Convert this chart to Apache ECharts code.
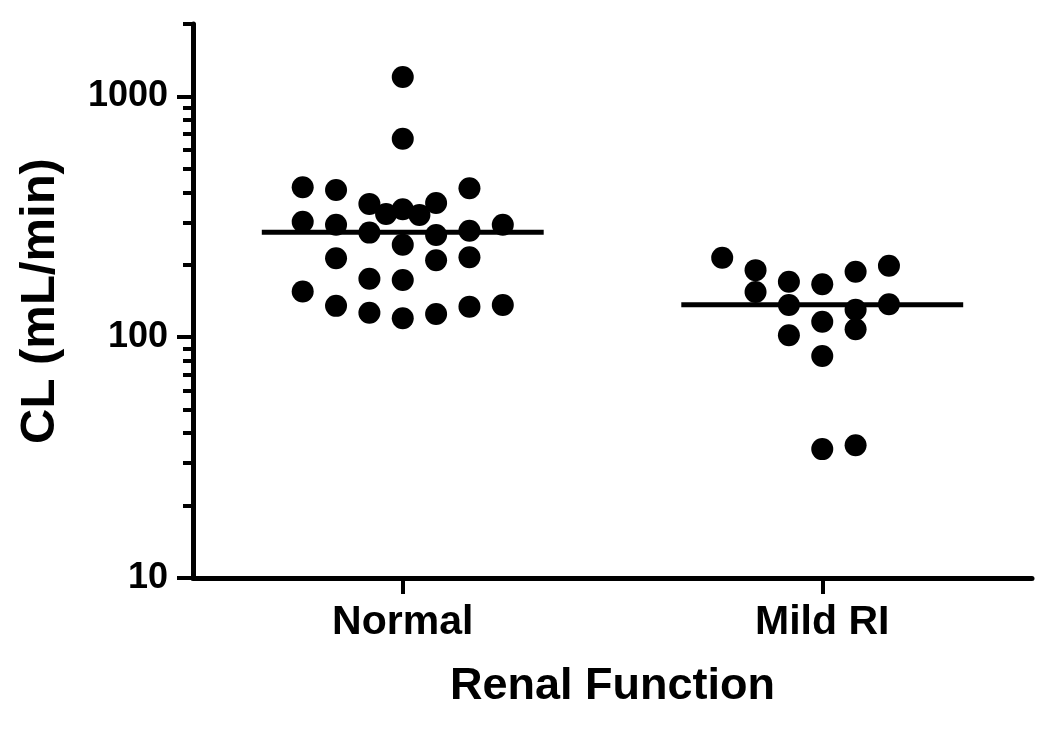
<!DOCTYPE html>
<html>
<head>
<meta charset="utf-8">
<script src="https://cdn.jsdelivr.net/npm/echarts@6/dist/echarts.min.js"></script>
<style>
html,body{margin:0;padding:0;background:#fff;}
#chart{width:1050px;height:729px;}
</style>
</head>
<body>
<div id="chart"></div>
<script>
// ---- data ----
var categories = ['Normal', 'Mild RI'];
var categoryPositions = [1, 3];
// CL values (mL/min)
var normalValues = [1205, 667, 420, 409, 416, 358, 361, 325, 340, 322, 302, 293, 293, 272, 266, 277, 242, 213, 209, 215, 175, 173, 155, 135, 126.5, 120, 125, 134, 136];
// horizontal scatter column of each point (in column steps from the category centre)
var normalColumns = [0, 0, -3, -2, 2, -1, 1, -0.5, 0, 0.5, -3, -2, 3, -1, 1, 2, 0, -2, 1, 2, -1, 0, -3, -2, -1, 0, 1, 2, 3];
var mildValues = [214, 190, 154, 170, 136, 102, 166, 116, 83.6, 34.3, 187, 130, 108, 35.6, 198, 137];
var mildColumns = [-3, -2, -2, -1, -1, -1, 0, 0, 0, 0, 1, 1, 1, 1, 2, 2];
var medians = [273, 136.5];
var yMajorTicks = [10, 100, 1000];
var yMinorTicks = [20, 30, 40, 50, 60, 70, 80, 90, 200, 300, 400, 500, 600, 700, 800, 900, 2000];

// ---- build ----
var columnStep = 0.159;
var medianHalfWidth = 0.672;
function pts(center, values, cols) {
  return values.map(function (v, i) { return [center + cols[i] * columnStep, v]; });
}
var font = "'Liberation Sans', Arial, sans-serif";
var chart = echarts.init(document.getElementById('chart'), null, {renderer: 'canvas'});
var series = [
  {type: 'scatter', data: pts(categoryPositions[0], normalValues, normalColumns), symbolSize: 22, itemStyle: {color: '#000', opacity: 1}, z: 3},
  {type: 'scatter', data: pts(categoryPositions[1], mildValues, mildColumns), symbolSize: 22, itemStyle: {color: '#000', opacity: 1}, z: 3}
];
medians.forEach(function (m, i) {
  var c = categoryPositions[i];
  series.push({
    type: 'line', data: [[c - medianHalfWidth, m], [c + medianHalfWidth, m]],
    symbol: 'none', lineStyle: {color: '#000', width: 5}, z: 4, silent: true
  });
});
chart.setOption({
  animation: false,
  backgroundColor: '#fff',
  grid: {left: 193, right: 18, top: 24, bottom: 151, containLabel: false},
  xAxis: {
    type: 'value', min: 0, max: 4,
    name: 'Renal Function', nameLocation: 'middle', nameGap: 86,
    nameTextStyle: {fontFamily: font, fontWeight: 'bold', fontSize: 45, color: '#000'},
    axisLine: {show: true, lineStyle: {color: '#000', width: 5}},
    axisTick: {show: true, length: 16, lineStyle: {color: '#000', width: 4}, customValues: categoryPositions},
    axisLabel: {
      fontFamily: font, fontWeight: 'bold', fontSize: 41, color: '#000', margin: 24,
      customValues: categoryPositions,
      formatter: function (v) { var i = categoryPositions.indexOf(v); return i >= 0 ? categories[i] : ''; }
    },
    splitLine: {show: false}
  },
  yAxis: [
    {
      type: 'log', logBase: 10, min: 10, max: 2000,
      name: 'CL (mL/min)', nameLocation: 'middle', nameGap: 128, nameRotate: 90,
      nameTextStyle: {fontFamily: font, fontWeight: 'bold', fontSize: 49, color: '#000'},
      axisLine: {show: true, lineStyle: {color: '#000', width: 5}},
      axisTick: {show: true, length: 16, lineStyle: {color: '#000', width: 4}, customValues: yMajorTicks},
      axisLabel: {
        fontFamily: font, fontWeight: 'bold', fontSize: 36, color: '#000', margin: 25,
        customValues: yMajorTicks,
        formatter: function (v) { return String(Math.round(v)); }
      },
      splitLine: {show: false}
    },
    {
      type: 'log', logBase: 10, min: 10, max: 2000, position: 'left',
      axisLine: {show: false},
      axisTick: {show: true, length: 10, lineStyle: {color: '#000', width: 4}, customValues: yMinorTicks},
      axisLabel: {show: false},
      splitLine: {show: false}
    }
  ],
  series: series
});
</script>
</body>
</html>
